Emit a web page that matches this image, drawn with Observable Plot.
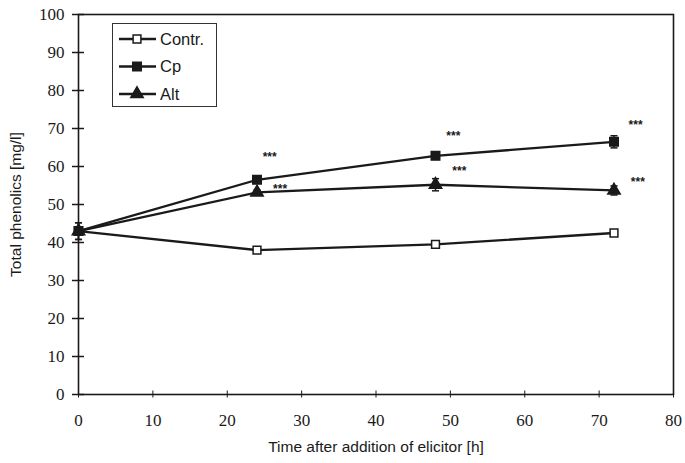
<!DOCTYPE html>
<html>
<head>
<meta charset="utf-8">
<script src="https://cdn.jsdelivr.net/npm/d3@7"></script>
<script src="https://cdn.jsdelivr.net/npm/@observablehq/plot@0.6"></script>
<style>
  html, body { margin: 0; padding: 0; background: #fff; }
  #wrap { position: relative; width: 685px; height: 463px; }
  #legend { position: absolute; left: 112px; top: 23px; width: 105px; height: 84px;
            border: 1px solid #333; background: #fff; box-sizing: border-box; }
</style>
</head>
<body>
<div id="wrap"><div id="chart"></div><div id="legend"></div></div>
<script>
// ---- data ----
const hours = [0, 24, 48, 72];
const seriesNames = ["Contr.", "Cp", "Alt"];
const contrValues = [43, 38, 39.5, 42.5];
const cpValues = [43, 56.5, 62.8, 66.5];
const altValues = [43, 53.2, 55.2, 53.7];
const contrErr = [1.0, 0.5, 0.5, 0.6];
const cpErr = [2.2, 0.6, 0.8, 1.6];
const altErr = [2.2, 0.6, 1.6, 1.2];
const starLabel = "***";
const starHours = [25.7, 27.1, 50.4, 51.2, 74.9, 75.2];
const starValues = [63.2, 54.7, 68.7, 59.5, 71.8, 56.6];
const xTicks = [0, 10, 20, 30, 40, 50, 60, 70, 80];
const yTicks = [0, 10, 20, 30, 40, 50, 60, 70, 80, 90, 100];

const ink = "#1a1a1a";
const styles = {
  "Contr.": {values: contrValues, err: contrErr, symbol: "square", fill: "white", r: 4.4},
  "Cp": {values: cpValues, err: cpErr, symbol: "square", fill: ink, r: 4.8},
  "Alt": {values: altValues, err: altErr, symbol: "triangle", fill: ink, r: 4.6}
};
const rows = seriesNames.flatMap(s => hours.map((h, i) => ({
  series: s, hour: h, value: styles[s].values[i], err: styles[s].err[i]
})));
const stars = starHours.map((h, i) => ({hour: h, value: starValues[i], label: starLabel}));

const capSymbol = {draw(ctx, size) { const r = Math.sqrt(size) / 2; ctx.moveTo(-r, 0); ctx.lineTo(r, 0); }};

const serif = "'Liberation Serif', 'Times New Roman', serif";
const sans = "'Liberation Sans', Arial, sans-serif";

const marks = [
  Plot.frame({stroke: ink, strokeWidth: 1.6}),
  // tick marks crossing axes
  Plot.axisX({ticks: xTicks, tickSize: 7, dy: -3.5, tickFormat: () => "", label: null, stroke: ink}),
  Plot.axisY({ticks: yTicks, tickSize: 12, dx: 6, tickFormat: () => "", label: null, stroke: ink, strokeWidth: 1.5}),
  // tick labels (serif numerals)
  Plot.axisX({ticks: xTicks, tickSize: 0, tickPadding: 19, label: null, fontFamily: serif, fontSize: 17, fill: ink}),
  Plot.axisY({ticks: yTicks, tickSize: 0, tickPadding: 14, label: null, fontFamily: serif, fontSize: 17, fill: ink}),
  // axis titles
  Plot.axisX({ticks: [], label: "Time after addition of elicitor [h]", labelAnchor: "center", labelArrow: "none", labelOffset: 57, fontFamily: sans, fontSize: 15.5, fill: ink}),
  Plot.axisY({ticks: [], label: "Total phenolics [mg/l]", labelAnchor: "center", labelArrow: "none", labelOffset: 69, fontFamily: sans, fontSize: 15.5, fill: ink})
];
for (const s of seriesNames) {
  const data = rows.filter(d => d.series === s);
  marks.push(Plot.line(data, {x: "hour", y: "value", stroke: ink, strokeWidth: 2.3}));
  marks.push(Plot.ruleX(data, {x: "hour", y1: d => d.value - d.err, y2: d => d.value + d.err, stroke: ink, strokeWidth: 1.5}));
  marks.push(Plot.dot(data, {x: "hour", y: d => d.value - d.err, symbol: capSymbol, r: 4, stroke: ink, strokeWidth: 1.5}));
  marks.push(Plot.dot(data, {x: "hour", y: d => d.value + d.err, symbol: capSymbol, r: 4, stroke: ink, strokeWidth: 1.5}));
}
for (const s of seriesNames) {
  const st = styles[s];
  marks.push(Plot.dot(rows.filter(d => d.series === s), {x: "hour", y: "value", symbol: st.symbol, r: st.r, fill: st.fill, stroke: ink, strokeWidth: 1.5}));
}
marks.push(Plot.text(stars, {x: "hour", y: "value", text: "label", fontFamily: sans, fontSize: 12, fontWeight: "bold", fill: ink, dy: 3}));

const chart = Plot.plot({
  width: 685, height: 463,
  marginLeft: 78, marginRight: 12, marginTop: 14, marginBottom: 69,
  x: {domain: [0, 80]},
  y: {domain: [0, 100]},
  style: {background: "white", color: ink, fontFamily: sans},
  marks
});
document.getElementById("chart").appendChild(chart);

// legend
const lg = d3.select("#legend").append("svg").attr("width", 105).attr("height", 84);
seriesNames.forEach((s, i) => {
  const st = styles[s];
  const y = 15 + i * 27.5;
  const g = lg.append("g").attr("transform", `translate(0,${y})`);
  g.append("line").attr("x1", 6).attr("x2", 43).attr("y1", 0).attr("y2", 0).attr("stroke", ink).attr("stroke-width", 2.3);
  const sym = st.symbol === "square" ? d3.symbolSquare : d3.symbolTriangle;
  g.append("path").attr("transform", "translate(24,0)")
    .attr("d", d3.symbol(sym, Math.PI * st.r * st.r)())
    .attr("fill", st.fill).attr("stroke", ink).attr("stroke-width", 1.5);
  g.append("text").attr("x", 47).attr("y", 0).attr("dy", "0.36em")
    .style("font-family", sans).attr("font-size", 16.5).attr("fill", ink).text(s);
});
</script>
</body>
</html>
